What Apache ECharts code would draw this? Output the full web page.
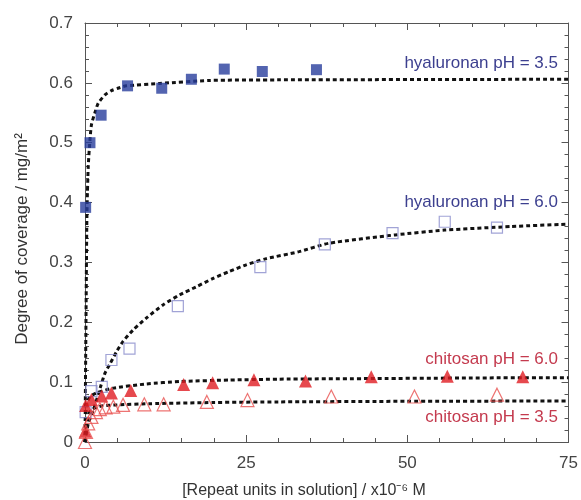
<!DOCTYPE html>
<html>
<head>
<meta charset="utf-8">
<script src="https://cdn.jsdelivr.net/npm/echarts@6/dist/echarts.min.js"></script>
<style>html,body{margin:0;padding:0;background:#fff}#c{width:581px;height:500px}</style>
</head>
<body>
<div id="c"></div>
<script>
// ---- data ----
var hyal35 = [[0.1,0.392],[0.77,0.50],[2.5,0.546],[6.6,0.595],[11.9,0.591],[16.5,0.606],[21.6,0.623],[27.5,0.619],[35.9,0.622]];
var hyal60 = [[0.1,0.05],[1.0,0.085],[2.6,0.092],[4.1,0.137],[6.9,0.156],[14.4,0.227],[27.2,0.292],[37.2,0.330],[47.7,0.349],[55.8,0.368],[63.9,0.358]];
var chit60 = [[0.05,0.018],[0.1,0.061],[1.0,0.071],[2.6,0.077],[4.1,0.082],[7.1,0.086],[15.3,0.096],[19.8,0.099],[26.2,0.104],[34.2,0.102],[44.4,0.109],[56.2,0.110],[67.9,0.109]];
var chit35 = [[0,0.0],[0.15,0.017],[0.5,0.031],[1.0,0.042],[1.7,0.050],[2.3,0.055],[3.2,0.058],[4.4,0.059],[5.9,0.062],[9.2,0.063],[12.2,0.063],[18.9,0.067],[25.2,0.070],[38.2,0.076],[51.1,0.076],[63.9,0.079]];
// fitted curves
var fitHyal35 = [[0,0],[0.15,0.2],[0.3,0.38],[0.5,0.46],[0.77,0.505],[1.0,0.53],[1.5,0.549],[2.05,0.566],[3.1,0.58],[4.1,0.587],[5.1,0.591],[6.4,0.595],[11.6,0.599],[19.3,0.604],[30,0.605],[75,0.606]];
var fitHyal60 = [[0,0],[0.5,0.03],[1.5,0.06],[2.4,0.092],[3.1,0.115],[3.9,0.131],[4.9,0.151],[5.9,0.168],[7.45,0.187],[9.5,0.207],[12.1,0.229],[14.7,0.246],[17.2,0.259],[19.8,0.273],[22.4,0.285],[25,0.296],[28,0.306],[33.2,0.318],[37.8,0.332],[48.1,0.346],[55.8,0.354],[66.1,0.36],[75,0.364]];
var fitChit60 = [[0,0],[0.1,0.04],[0.3,0.065],[0.8,0.076],[2,0.083],[4.4,0.09],[9.5,0.097],[14.7,0.101],[22.4,0.1035],[30,0.105],[45,0.106],[60,0.107],[75,0.1075]];
var fitChit35 = [[0,0],[0.2,0.03],[0.6,0.048],[1.2,0.055],[2.5,0.06],[5,0.062],[10,0.064],[20,0.066],[30,0.067],[50,0.068],[75,0.0685]];
var xTicks = [0,25,50,75];
var yTicks = [0,0.1,0.2,0.3,0.4,0.5,0.6,0.7];
var labels = [
  {text:'hyaluronan pH = 3.5', y:0.632, c:'#3c3f8f'},
  {text:'hyaluronan pH = 6.0', y:0.40, c:'#3c3f8f'},
  {text:'chitosan pH = 6.0', y:0.138, c:'#c43a4e'},
  {text:'chitosan pH = 3.5', y:0.042, c:'#c43a4e'}
];

var chart = echarts.init(document.getElementById('c'));
var axisCol = '#555';
var FONT = '"Liberation Sans", Arial, sans-serif';
function xAx(pos, show){
  return {type:'value', position:pos, min:xTicks[0], max:xTicks[xTicks.length-1], interval:25,
    axisLine:{show:true,onZero:false,lineStyle:{color:axisCol,width:1}},
    axisTick:{show:true,inside:true,length:7,lineStyle:{color:axisCol}},
    minorTick:{show:true,splitNumber:5,length:4,lineStyle:{color:axisCol}},
    splitLine:{show:false},
    axisLabel:{show:show,margin:13,color:'#444',fontSize:17,fontFamily:FONT}};
}
function yAx(pos, show){
  return {type:'value', position:pos, min:yTicks[0], max:yTicks[yTicks.length-1], interval:0.1,
    axisLine:{show:true,onZero:false,lineStyle:{color:axisCol,width:1}},
    axisTick:{show:true,inside:true,length:7,lineStyle:{color:axisCol}},
    minorTick:{show:true,splitNumber:5,length:4,lineStyle:{color:axisCol}},
    splitLine:{show:false},
    axisLabel:{show:show,margin:12,color:'#444',fontSize:17,fontFamily:FONT,
      formatter:function(v){return v===0?'0':v.toFixed(1);}}};
}
var dotted = {color:'#111',width:3,type:[4,3]};
function fit(d){return {type:'line',data:d,showSymbol:false,symbol:'none',smooth:0.2,lineStyle:dotted,z:2,silent:true};}
var grid = {left:85,right:10,top:23,bottom:58};
chart.setOption({
  animation:false,
  grid:grid,
  xAxis:[xAx('bottom',true), xAx('top',false)],
  yAxis:[yAx('left',true), yAx('right',false)],
  series:[
    fit(fitHyal35), fit(fitHyal60), fit(fitChit60), fit(fitChit35),
    {type:'scatter',data:hyal35,symbol:'rect',symbolSize:11,itemStyle:{color:'#283d9c'},z:5},
    {type:'scatter',data:hyal60,symbol:'rect',symbolSize:11,itemStyle:{color:'rgba(0,0,0,0)',borderColor:'#8a8ccc',borderWidth:1.2},z:5},
    {type:'scatter',data:chit60,symbol:'triangle',symbolSize:13,itemStyle:{color:'#e01b22'},z:5},
    {type:'scatter',data:chit35,symbol:'triangle',symbolSize:13,itemStyle:{color:'rgba(0,0,0,0)',borderColor:'#e8504f',borderWidth:1.2},z:5}
  ]
});
var gr = [];
labels.forEach(function(l){
  var p = chart.convertToPixel({xAxisIndex:0,yAxisIndex:0},[75,l.y]);
  gr.push({type:'text',x:558,y:p[1],style:{text:l.text,fill:l.c,font:'17px '+FONT,textAlign:'right',textVerticalAlign:'middle'}});
});
gr.push({type:'text',x:304,y:491,style:{text:'[Repeat units in solution] / x10⁻⁶ M',fill:'#333',font:'16px '+FONT,textAlign:'center',textVerticalAlign:'middle'}});
gr.push({type:'text',x:22,y:239,rotation:Math.PI/2,style:{text:'Degree of coverage / mg/m²',fill:'#333',font:'17px '+FONT,textAlign:'center',textVerticalAlign:'middle'}});
chart.setOption({graphic:gr});
</script>
</body>
</html>
